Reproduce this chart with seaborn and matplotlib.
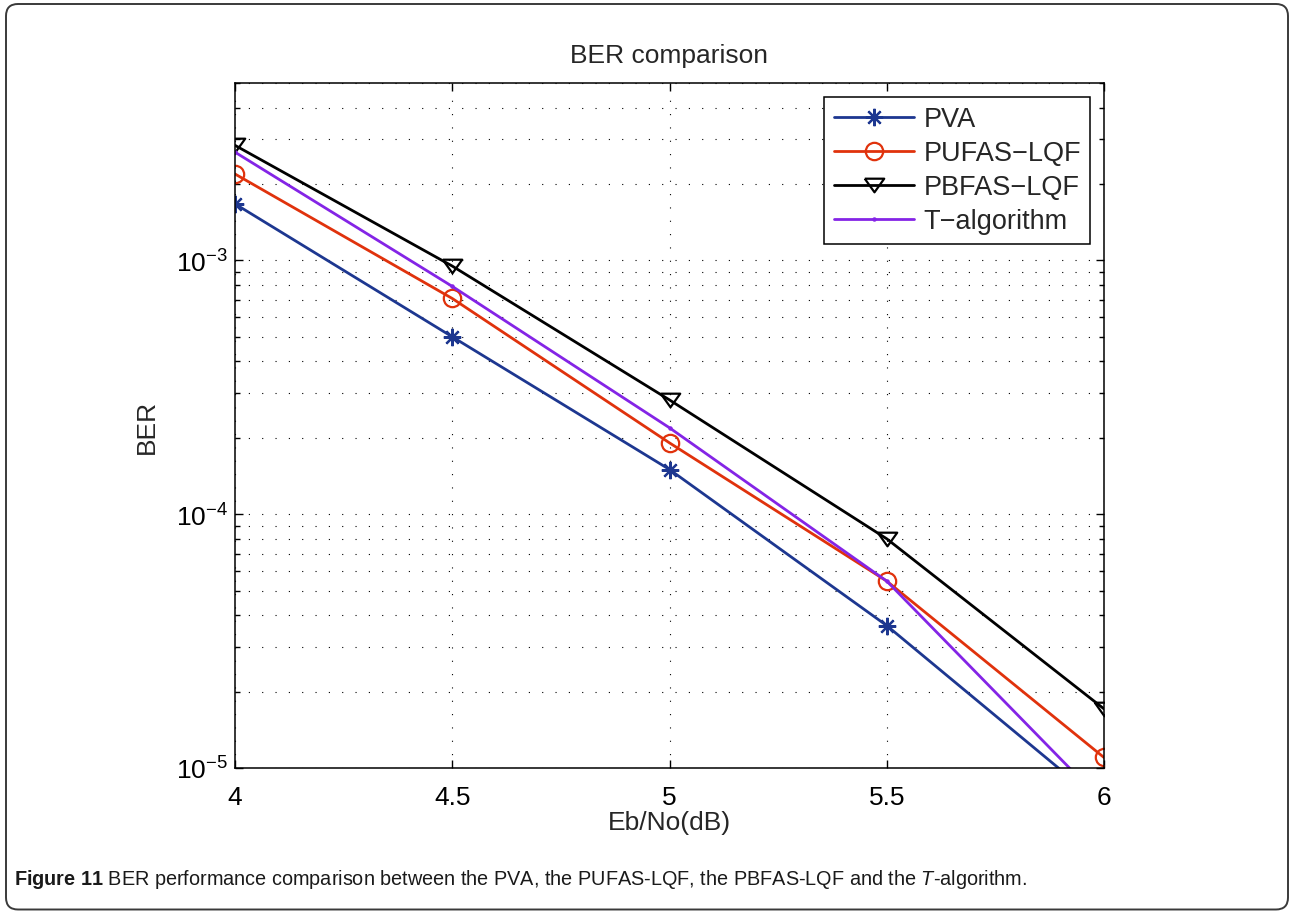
import numpy as np
import pandas as pd
import matplotlib
matplotlib.use("Agg")
import matplotlib.pyplot as plt
import seaborn as sns
from matplotlib import font_manager
from matplotlib.patches import FancyBboxPatch
from matplotlib.transforms import IdentityTransform
from matplotlib.ticker import LogLocator, NullLocator, NullFormatter, FixedLocator, FormatStrFormatter

# ---- data -------------------------------------------------------------
ebno_db = [4.0, 4.5, 5.0, 5.5, 6.0]
ber_pva = [1.67e-3, 5.0e-4, 1.50e-4, 3.64e-5, 7.1e-6]
ber_pufas_lqf = [2.19e-3, 7.08e-4, 1.91e-4, 5.45e-5, 1.10e-5]
ber_pbfas_lqf = [2.84e-3, 9.5e-4, 2.82e-4, 8.0e-5, 1.71e-5]
ber_t_algorithm = [2.67e-3, 7.9e-4, 2.19e-4, 5.45e-5, 7.26e-6]

series_names = ["PVA", "PUFAS\u2212LQF", "PBFAS\u2212LQF", "T\u2212algorithm"]
series_values = [ber_pva, ber_pufas_lqf, ber_pbfas_lqf, ber_t_algorithm]
x_ticks = [4, 4.5, 5, 5.5, 6]

caption = (r"$\mathbf{Figure\ 11}$ BER performance comparison between the PVA, "
           r"the PUFAS-LQF, the PBFAS-LQF and the $\mathit{T}$-algorithm.")

# ---- style ------------------------------------------------------------
sns.set_theme(style="ticks")
main_font = "Liberation Sans"


def has_font(name):
    try:
        font_manager.findfont(name, fallback_to_default=False)
        return True
    except Exception:
        return False


caption_font = "Liberation Sans Narrow" if has_font("Liberation Sans Narrow") else main_font

plt.rcParams["font.family"] = [main_font, "DejaVu Sans"]
plt.rcParams["mathtext.fontset"] = "custom"
plt.rcParams["mathtext.default"] = "regular"
plt.rcParams["mathtext.rm"] = main_font
plt.rcParams["mathtext.bf"] = caption_font + ":bold"
plt.rcParams["mathtext.it"] = caption_font + ":italic"
plt.rcParams["axes.unicode_minus"] = True

FS = 19

df = pd.concat(
    [pd.DataFrame({"ebno": ebno_db, "ber": v, "scheme": n}) for n, v in zip(series_names, series_values)],
    ignore_index=True,
)

colors = {
    "PVA": "#1d3790",
    "PUFAS\u2212LQF": "#e0320c",
    "PBFAS\u2212LQF": "#000000",
    "T\u2212algorithm": "#8424e6",
}

# a wide, flat downward triangle and an 8-spoke asterisk
tri_down = [(-1.0, 0.7), (1.0, 0.7), (0.0, -0.7), (-1.0, 0.7)]
marker_kw = {
    "PVA": dict(marker=(8, 2, 0), markersize=12.5, markeredgewidth=1.6,
                markeredgecolor=colors["PVA"], markerfacecolor=colors["PVA"]),
    "PUFAS\u2212LQF": dict(marker="o", markersize=12.5, markeredgewidth=1.6,
                         markerfacecolor="none", markeredgecolor=colors["PUFAS\u2212LQF"]),
    "PBFAS\u2212LQF": dict(marker=tri_down, markersize=14, markeredgewidth=1.6,
                         markerfacecolor="none", markeredgecolor="#000000"),
    "T\u2212algorithm": dict(marker="o", markersize=3.2, markeredgewidth=0,
                           markerfacecolor=colors["T\u2212algorithm"]),
}

fig = plt.figure(figsize=(12.9, 9.12), dpi=100)
fig.patch.set_facecolor("white")
ax = fig.add_axes([235 / 1290, 1 - 769 / 912, (1104 - 235) / 1290, (769 - 84) / 912])

for name in series_names:
    sub = df[df["scheme"] == name]
    sns.lineplot(data=sub, x="ebno", y="ber", ax=ax, color=colors[name], linewidth=2.0,
                 sort=False, estimator=None, legend=False, **marker_kw[name])
    ax.get_lines()[-1].set_label(name)

ax.set_yscale("log")
ax.set_xlim(4, 6)
ax.set_ylim(1e-5, 5e-3)

ax.xaxis.set_major_locator(FixedLocator(x_ticks))
ax.xaxis.set_major_formatter(FormatStrFormatter("%g"))
ax.xaxis.set_minor_locator(NullLocator())
ax.yaxis.set_major_locator(LogLocator(base=10, numticks=10))
ax.yaxis.set_minor_locator(LogLocator(base=10, subs=np.arange(2, 10), numticks=20))
ax.yaxis.set_minor_formatter(NullFormatter())

ax.tick_params(which="both", direction="in", top=True, right=True, colors="black",
               labelsize=FS, width=1.0)
ax.tick_params(which="major", length=6)
ax.tick_params(which="minor", length=3.5)
ax.tick_params(axis="x", pad=12)
ax.tick_params(axis="y", pad=5)

dots = (0, (1, 11))
ax.grid(which="major", axis="both", color="black", linestyle=dots, linewidth=0.8)
ax.grid(which="minor", axis="y", color="black", linestyle=dots, linewidth=0.8)

for sp in ax.spines.values():
    sp.set_color("black")
    sp.set_linewidth(1.1)

ax.set_title("BER comparison", fontsize=FS, pad=15)
ax.set_xlabel("Eb/No(dB)", fontsize=FS, labelpad=1)
ax.set_ylabel("BER", fontsize=FS, labelpad=12)

leg = ax.legend(loc="upper right", fontsize=19.5, handlelength=2.95, handletextpad=0.35,
                labelspacing=0.3, borderpad=0.35, borderaxespad=0.5, fancybox=False,
                framealpha=1, edgecolor="black")
leg.get_frame().set_linewidth(1.1)

# caption under the chart
fig.text(14 / 1290, 1 - 880 / 912, caption, fontsize=14.3, family=caption_font,
         ha="left", va="center", color="#1a1a1a")

# rounded frame around the whole figure
frame = FancyBboxPatch((6, 1.5), 1282, 905.5, boxstyle="round,pad=0,rounding_size=12",
                       transform=IdentityTransform(), facecolor="none",
                       edgecolor="#3a3a3a", linewidth=1.4)
fig.add_artist(frame)

fig.savefig("out.png", dpi=100, facecolor="white")
